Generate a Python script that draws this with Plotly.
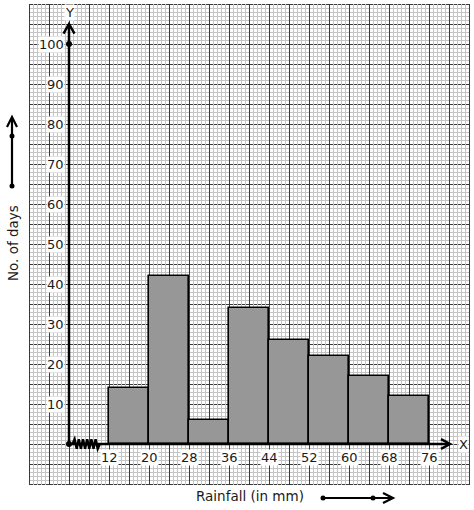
import plotly.graph_objects as go

# class intervals (rainfall in mm) and frequencies (no. of days)
bin_lo = [12, 20, 28, 36, 44, 52, 60, 68]
bin_hi = [20, 28, 36, 44, 52, 60, 68, 76]
days = [14, 42, 6, 34, 26, 22, 17, 12]

x_ticks = [12, 20, 28, 36, 44, 52, 60, 68, 76]
y_ticks = [10, 20, 30, 40, 50, 60, 70, 80, 90, 100]

ORIGIN_X = 4  # where the (broken) x axis starts on the paper
FONT = "DejaVu Sans"
X0, X1 = -4, 84.2     # 5 px per unit
Y0, Y1 = -10.25, 110  # 4 px per unit

fig = go.Figure()

# graph paper: horizontal lines first, vertical lines on top (like the print)
def hpath(vals):
    return " ".join(f"M {X0},{v - 0.125} L {X1},{v - 0.125}" for v in vals)

def vpath(vals):
    return " ".join(f"M {u + 0.1},{Y0} L {u + 0.1},{Y1}" for u in vals)

minor_c, major_c = "#c4c4c4", "#3a3a3a"
h_minor = [y for y in range(-10, 111) if y % 5]
h_major = list(range(-10, 111, 5))
v_minor = [-4 + 0.8 * i for i in range(111) if i % 5]
v_major = [-4 + 4 * i for i in range(23)]
for p, c in [(hpath(h_minor), minor_c), (hpath(h_major), major_c),
             (vpath(v_minor), minor_c), (vpath(v_major), major_c)]:
    fig.add_shape(type="path", path=p, layer="below", line=dict(color=c, width=1))

fig.add_trace(
    go.Bar(
        x=[(a + b) / 2 for a, b in zip(bin_lo, bin_hi)],
        y=days,
        width=[b - a for a, b in zip(bin_lo, bin_hi)],
        marker=dict(color="#979797", line=dict(color="black", width=1.6)),
        hoverinfo="x+y",
        showlegend=False,
    )
)

# axes with arrow heads
line = dict(color="black", width=2.5)
fig.add_shape(type="line", x0=ORIGIN_X, y0=0, x1=ORIGIN_X, y1=104.8, line=line)
fig.add_shape(type="path", path=f"M {ORIGIN_X-1.1},102.6 L {ORIGIN_X},105 L {ORIGIN_X+1.1},102.6",
              line=line)
fig.add_shape(type="line", x0=ORIGIN_X, y0=0, x1=80, y1=0, line=line)
fig.add_shape(type="path", path="M 78.4,1.2 L 80.2,0 L 78.4,-1.2", line=line)

# kink (zig-zag) on the x axis
zig = [ORIGIN_X + 0.7 + 0.42 * i for i in range(14)]
path = "M " + " L ".join(f"{x},{((1 if i % 2 else -1) * 1.2) if 0 < i < 13 else 0}"
                         for i, x in enumerate(zig))
fig.add_shape(type="path", path=path, line=dict(color="black", width=2.4))

fig.add_trace(
    go.Scatter(x=[ORIGIN_X, ORIGIN_X], y=[0, 100], mode="markers",
               marker=dict(color="black", size=6), cliponaxis=False,
               hoverinfo="skip", showlegend=False)
)

lab_font = dict(family=FONT, size=13, color="#1a1a1a")
ann = []
for v in y_ticks:
    ann.append(dict(x=ORIGIN_X, y=v, text=str(v), showarrow=False, xanchor="right",
                    xshift=-4, bgcolor="white", borderpad=0, font=lab_font))
for v in x_ticks:
    ann.append(dict(x=v, y=0, text=str(v), showarrow=False, yanchor="top",
                    yshift=-5, bgcolor="white", borderpad=0, font=lab_font))
ann.append(dict(x=ORIGIN_X, y=108, text="Y", showarrow=False, bgcolor="white",
                borderpad=0, font=lab_font))
ann.append(dict(x=81.8, y=0, text="X", showarrow=False, xanchor="left", bgcolor="white",
                borderpad=0, font=lab_font))


# direction arrows / titles outside the graph paper (paper coords from pixels)
def px(x):
    return (x - 29) / 441


def py(y):
    return (485 - y) / 481


ann.append(dict(xref="paper", yref="paper", x=px(13), y=py(243), xanchor="center",
                yanchor="middle", text="No. of days", textangle=-90, showarrow=False,
                font=dict(family=FONT, size=13.5, color="#1a1a1a")))
ann.append(dict(xref="paper", yref="paper", x=px(250), y=py(496), xanchor="center",
                yanchor="middle", text="Rainfall (in mm)", showarrow=False,
                font=dict(family=FONT, size=13.5, color="#1a1a1a")))

arrow = dict(color="black", width=2.2)
fig.add_shape(type="line", xref="paper", yref="paper", x0=px(12), y0=py(186),
              x1=px(12), y1=py(118), line=arrow)
fig.add_shape(type="path", xref="paper", yref="paper",
              path=f"M {px(7)},{py(127)} L {px(12)},{py(117)} L {px(17)},{py(127)}", line=arrow)
fig.add_shape(type="line", xref="paper", yref="paper", x0=px(323), y0=py(498),
              x1=px(392), y1=py(498), line=arrow)
fig.add_shape(type="path", xref="paper", yref="paper",
              path=f"M {px(383)},{py(493)} L {px(393)},{py(498)} L {px(383)},{py(503)}", line=arrow)
for x, y in [(12, 186), (12, 136), (323, 498), (373, 498)]:
    fig.add_shape(type="circle", xref="paper", yref="paper",
                  x0=px(x - 2.5), x1=px(x + 2.5), y0=py(y + 2.5), y1=py(y - 2.5),
                  fillcolor="black", line=dict(width=0))

fig.update_layout(
    width=474, height=510,
    margin=dict(l=29, r=4, t=4, b=25),
    paper_bgcolor="white", plot_bgcolor="white",
    annotations=ann,
    bargap=0,
    font=dict(family=FONT),
    xaxis=dict(range=[X0, X1], showticklabels=False, ticks="", zeroline=False,
               showgrid=False, showline=False, fixedrange=True),
    yaxis=dict(range=[Y0, Y1], showticklabels=False, ticks="", zeroline=False,
               showgrid=False, showline=False, fixedrange=True),
)

fig.write_html("out.html", config={"displayModeBar": False},
               post_script="document.body.style.margin='0';")
